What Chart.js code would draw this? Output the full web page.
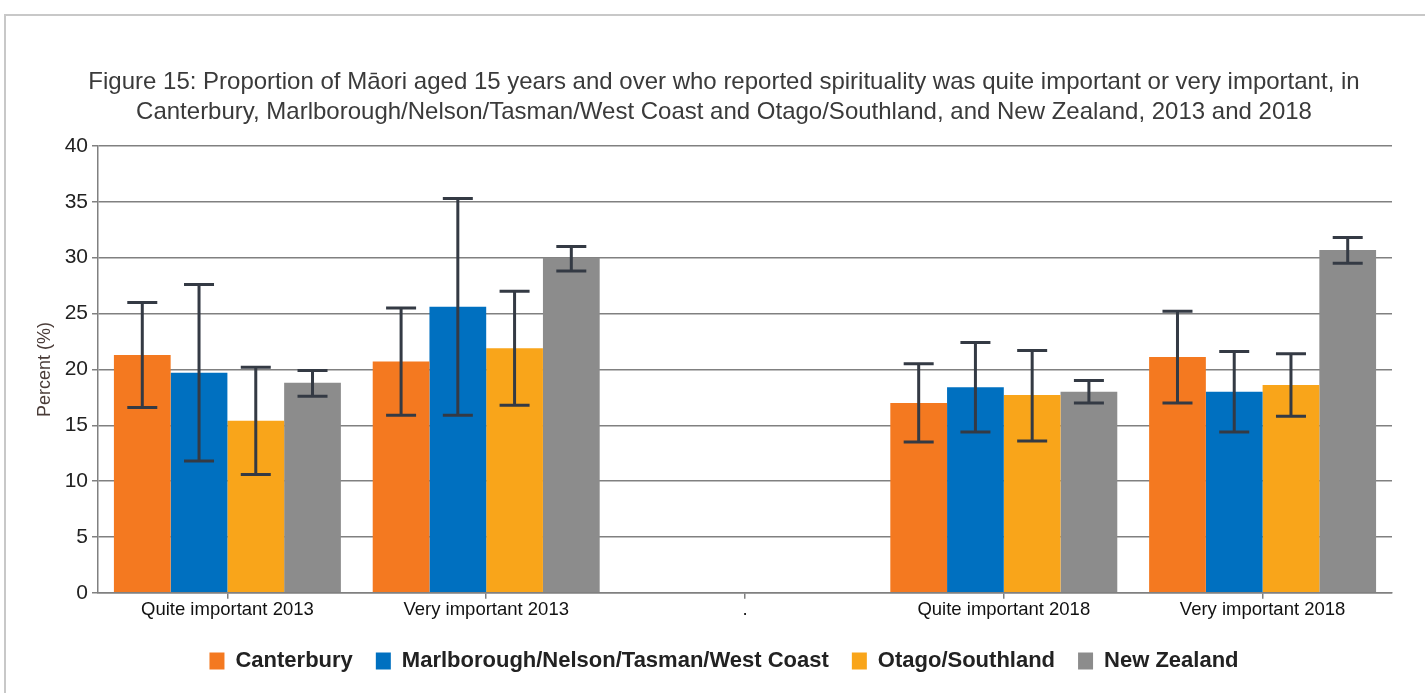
<!DOCTYPE html>
<html>
<head>
<meta charset="utf-8">
<script src="https://cdn.jsdelivr.net/npm/chart.js@4.4.1/dist/chart.umd.min.js"></script>
<style>
  html, body { margin: 0; padding: 0; background: #fff; overflow: hidden; }
  #frame { position: absolute; left: 4px; top: 14px; width: 1500px; height: 800px; border: 2px solid #c8c8c8; }
  #wrap { position: absolute; left: 0; top: 0; width: 1425px; height: 693px; }
</style>
</head>
<body>
<div id="frame"></div>
<div id="wrap"><canvas id="chart"></canvas></div>
<script>
var categories = ["Quite important 2013", "Very important 2013", ".", "Quite important 2018", "Very important 2018"];
var seriesNames = ["Canterbury", "Marlborough/Nelson/Tasman/West Coast", "Otago/Southland", "New Zealand"];
var seriesColors = ["#F47920", "#0070C0", "#F9A51A", "#8C8C8C"];

var canterbury = [21.3, 20.7, null, 17.0, 21.1];
var marlborough = [19.7, 25.6, null, 18.4, 18.0];
var otago = [15.4, 21.9, null, 17.7, 18.6];
var newZealand = [18.8, 30.0, null, 18.0, 30.7];

var canterburyLow = [16.6, 15.9, null, 13.5, 17.0];
var canterburyHigh = [26.0, 25.5, null, 20.5, 25.2];
var marlboroughLow = [11.8, 15.9, null, 14.4, 14.4];
var marlboroughHigh = [27.6, 35.3, null, 22.4, 21.6];
var otagoLow = [10.6, 16.8, null, 13.6, 15.8];
var otagoHigh = [20.2, 27.0, null, 21.7, 21.4];
var newZealandLow = [17.6, 28.8, null, 17.0, 29.5];
var newZealandHigh = [19.9, 31.0, null, 19.0, 31.8];

var yTicks = [0, 5, 10, 15, 20, 25, 30, 35, 40];

var values = [canterbury, marlborough, otago, newZealand];
var lows = [canterburyLow, marlboroughLow, otagoLow, newZealandLow];
var highs = [canterburyHigh, marlboroughHigh, otagoHigh, newZealandHigh];

var FONT = 'Liberation Sans, Arial, sans-serif';

// draws the confidence interval whiskers on top of each bar
var errorBars = {
    id: 'errorBars',
    afterDatasetsDraw: function(chart) {
        var ctx = chart.ctx;
        var y = chart.scales.y;
        ctx.save();
        ctx.strokeStyle = '#343a44';
        ctx.lineWidth = 3;
        chart.data.datasets.forEach(function(ds, i) {
            var meta = chart.getDatasetMeta(i);
            meta.data.forEach(function(bar, j) {
                if (lows[i][j] == null) return;
                var x = bar.x;
                var yl = y.getPixelForValue(lows[i][j]);
                var yh = y.getPixelForValue(highs[i][j]);
                ctx.beginPath();
                ctx.moveTo(x, yl); ctx.lineTo(x, yh);
                ctx.moveTo(x - 15, yl); ctx.lineTo(x + 15, yl);
                ctx.moveTo(x - 15, yh); ctx.lineTo(x + 15, yh);
                ctx.stroke();
            });
        });
        ctx.restore();
    }
};

var datasets = seriesNames.map(function(name, i) {
    return {
        label: name,
        data: values[i],
        backgroundColor: seriesColors[i],
        borderWidth: 0,
        barPercentage: 1,
        categoryPercentage: 0.877
    };
});

new Chart(document.getElementById('chart'), {
    type: 'bar',
    data: { labels: categories, datasets: datasets },
    plugins: [errorBars],
    options: {
        responsive: true,
        maintainAspectRatio: false,
        animation: false,
        layout: { padding: { left: 56, right: 33, top: 0, bottom: 11 } },
        plugins: {
            tooltip: { enabled: false },
            title: {
                display: true,
                text: ["Figure 15: Proportion of M\u0101ori aged 15 years and over who reported spirituality was quite important or very important, in",
                       "Canterbury, Marlborough/Nelson/Tasman/West Coast and Otago/Southland, and New Zealand, 2013 and 2018"],
                color: '#3a3a3a',
                font: { family: FONT, size: 24, weight: 'normal', lineHeight: 1.25 },
                padding: { top: 67, bottom: 19 }
            },
            legend: {
                position: 'bottom',
                title: { display: true, text: '', font: { size: 1, lineHeight: 1 }, padding: { top: 5, bottom: 0 } },
                labels: {
                    color: '#222',
                    boxWidth: 15,
                    boxHeight: 17,
                    padding: 23,
                    font: { family: FONT, size: 22, weight: 'bold' }
                }
            }
        },
        scales: {
            x: {
                grid: { display: true, drawOnChartArea: false, offset: false, tickLength: 6, color: '#808080', lineWidth: 1.5 },
                border: { color: '#808080', width: 1.5 },
                ticks: { color: '#111', padding: 0, font: { family: FONT, size: 18.5 }, maxRotation: 0, autoSkip: false }
            },
            y: {
                min: 0,
                max: 40,
                afterBuildTicks: function(scale) { scale.ticks = yTicks.map(function(v) { return { value: v }; }); },
                afterFit: function(scale) { scale.width = 42; },
                grid: { color: '#808080', lineWidth: 1.5, tickLength: 6 },
                border: { color: '#808080', width: 1.5 },
                ticks: { color: '#222', padding: 4, font: { family: FONT, size: 21 } },
                title: {
                    display: true,
                    text: 'Percent (%)',
                    color: '#4a3c38',
                    padding: { top: -22, bottom: 0 },
                    font: { family: FONT, size: 18 }
                }
            }
        }
    }
});
</script>
</body>
</html>
